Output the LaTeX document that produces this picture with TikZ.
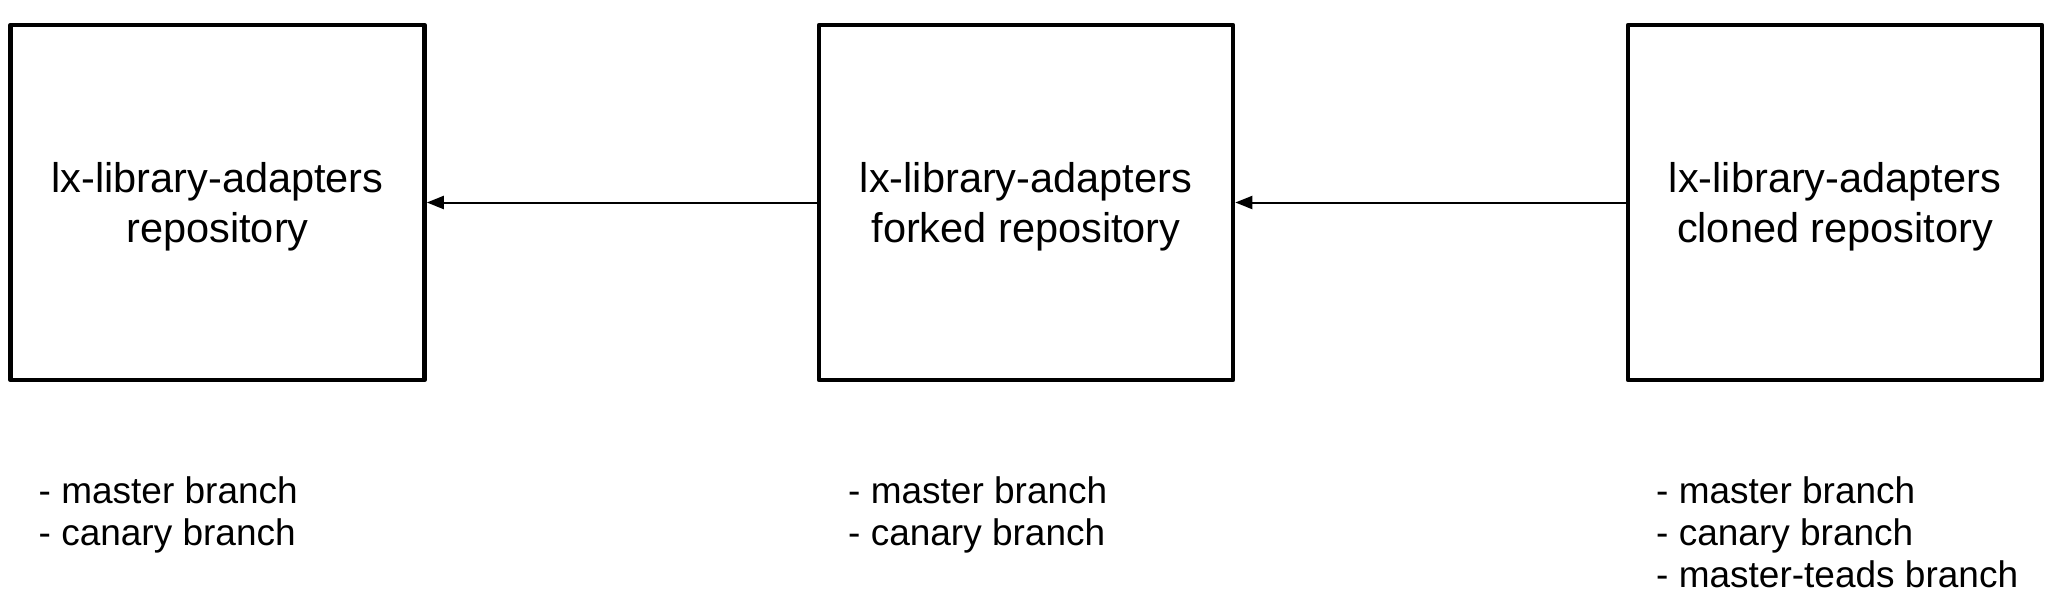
\documentclass[tikz,border=0pt]{standalone}
\usepackage{fontspec}
\setmainfont{Liberation Sans}
\usetikzlibrary{arrows.meta}
\begin{document}
\begin{tikzpicture}[x=1pt,y=-1pt,
  repo/.style={draw=black,line width=4.6pt,line join=round,minimum width=414pt,minimum height=355pt,
    inner sep=0pt,align=center,text depth=0pt,font=\fontsize{41.5}{49.5}\selectfont},
  branches/.style={anchor=base west,inner sep=0pt,align=left,font=\fontsize{37}{42}\selectfont},
  link/.style={line width=2pt,-{Triangle[length=17pt,width=13pt]}}]
\useasboundingbox (0,0) rectangle (2056,608);
\node[repo] (r1) at (217.5,202.5) {lx-library-adapters\\repository};
\node[repo] (r2) at (1026,202.5) {lx-library-adapters\\forked repository};
\node[repo] (r3) at (1835,202.5) {lx-library-adapters\\cloned repository};
\draw[link] (r2) -- (r1);
\draw[link] (r3) -- (r2);
\node[branches] (b1) at (38.5,545) {- master branch\\- canary branch};
\node[branches] (b2) at (848,545) {- master branch\\- canary branch};
\node[branches] (b3) at (1656,587) {- master branch\\- canary branch\\- master-teads branch};
\end{tikzpicture}
\end{document}
